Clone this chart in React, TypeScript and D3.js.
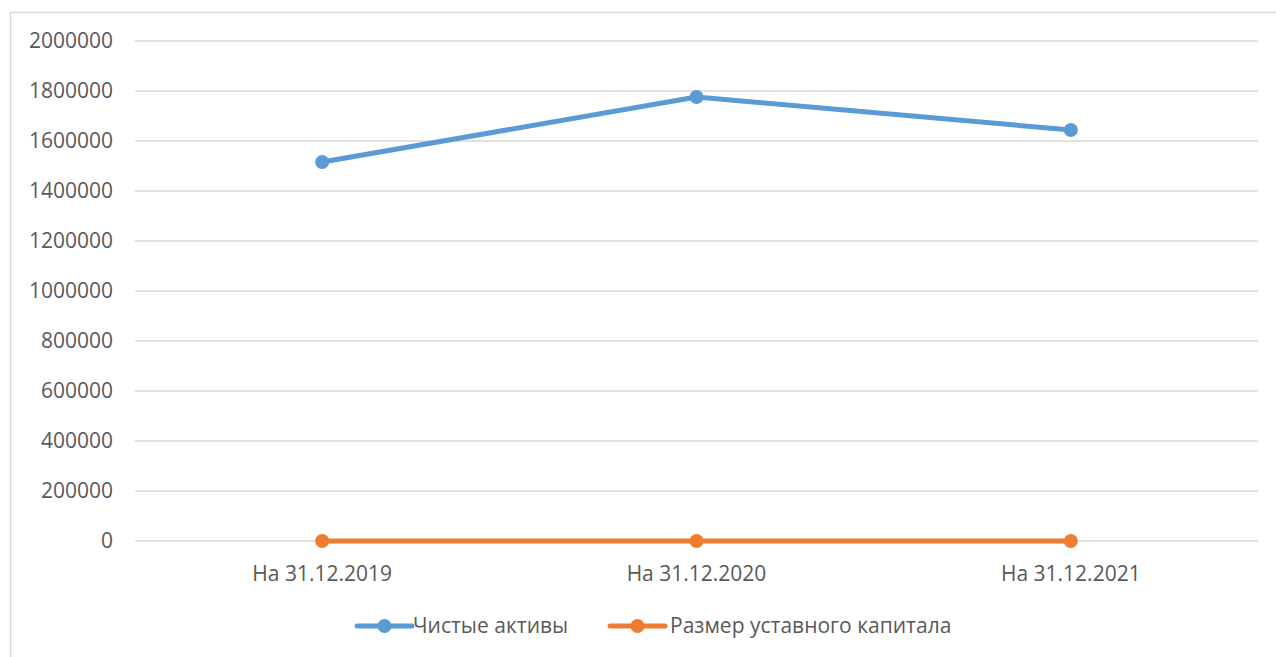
import React from "react";
import * as d3 from "d3";

const categories = ["На 31.12.2019", "На 31.12.2020", "На 31.12.2021"];
const netAssets = [1516000, 1776000, 1644000];
const charterCapital = [0, 0, 0];
const yTicks = [0, 200000, 400000, 600000, 800000, 1000000, 1200000, 1400000, 1600000, 1800000, 2000000];
const seriesNames = ["Чистые активы", "Размер уставного капитала"];
const colors = ["#5b9bd5", "#ed7d31"];

const W = 1276, H = 657;
const FONT = "'Open Sans', sans-serif";
const FS = 21;

export default function App() {
  const x = d3.scaleBand().domain(categories).range([135, 1258]);
  const y = d3.scaleLinear().domain([0, 2000000]).range([541, 41]);
  const line = d3.line<number>()
    .x((_, i) => (x(categories[i]) as number) + x.bandwidth() / 2)
    .y((d) => y(d));
  const series = [netAssets, charterCapital];
  const legend = [
    { x0: 357, tx: 413 },
    { x0: 610, tx: 670 },
  ];
  return (
    <svg width={W} height={H} style={{ position: "fixed", left: 0, top: 0, background: "#fff" }}>
      <rect x={10.5} y={12.5} width={1400} height={800} fill="#fff" stroke="#d9d9d9" strokeWidth={1.5} />
      {yTicks.map((t) => (
        <g key={t}>
          <line x1={135} x2={1258} y1={y(t)} y2={y(t)} stroke="#d9d9d9" strokeWidth={1.5} />
          <text x={113} y={y(t)} dy="0.35em" textAnchor="end" fontFamily={FONT} fontSize={FS} fill="#595959">{t}</text>
        </g>
      ))}
      {categories.map((c) => (
        <text key={c} x={(x(c) as number) + x.bandwidth() / 2} y={581} textAnchor="middle" fontFamily={FONT} fontSize={FS} fill="#595959">{c}</text>
      ))}
      {series.map((s, si) => (
        <g key={si}>
          <path d={line(s) as string} fill="none" stroke={colors[si]} strokeWidth={5} strokeLinejoin="round" />
          {s.map((v, i) => (
            <circle key={i} cx={(x(categories[i]) as number) + x.bandwidth() / 2} cy={y(v)} r={7} fill={colors[si]} />
          ))}
        </g>
      ))}
      {legend.map((l, i) => (
        <g key={i}>
          <line x1={l.x0} x2={l.x0 + 55} y1={626} y2={626} stroke={colors[i]} strokeWidth={5} strokeLinecap="round" />
          <circle cx={l.x0 + 27.5} cy={626} r={7} fill={colors[i]} />
          <text x={l.tx} y={626} dy="0.35em" fontFamily={FONT} fontSize={FS} fill="#595959">{seriesNames[i]}</text>
        </g>
      ))}
    </svg>
  );
}
